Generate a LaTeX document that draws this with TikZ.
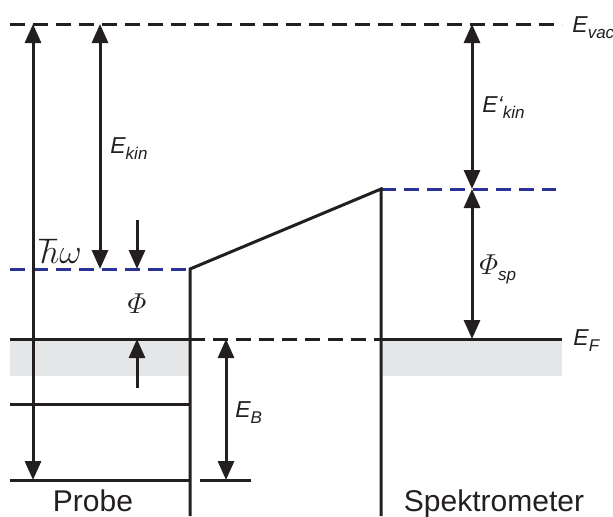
\documentclass[tikz,border=0pt]{standalone}
\usepackage{amsmath}
\usepackage{fontspec}
\setmainfont{Liberation Sans}
\usetikzlibrary{arrows.meta}
\definecolor{lineblack}{RGB}{35,31,32}
\definecolor{levelblue}{RGB}{43,50,150}
\definecolor{bandgray}{RGB}{230,231,232}
\newcommand{\elbl}[2]{{\fontsize{11.5}{12}\selectfont\itshape #1\raisebox{-3pt}{\fontsize{8.5}{9}\selectfont #2}}}
\begin{document}
\begin{tikzpicture}[x=0.5pt,y=-0.5pt,
  lvl/.style={line width=1.5pt,draw=lineblack},
  dlvl/.style={lvl,dash pattern=on 7.5pt off 4pt},
  blvl/.style={line width=1.5pt,draw=levelblue,dash pattern=on 7.5pt off 4pt},
  tip/.tip={Triangle[length=9.5pt,width=8pt]},
  darr/.style={line width=1.5pt,draw=lineblack,{tip}-{tip}},
  sarr/.style={line width=1.5pt,draw=lineblack,-{tip}},
  lab/.style={inner sep=0pt,anchor=base west,text=lineblack},
  big/.style={inner sep=0pt,anchor=base,text=lineblack,font=\fontsize{15}{16}\selectfont}]
\useasboundingbox (0,0) rectangle (613,516);
% coordinates
\coordinate (vacL) at (10,24);
\coordinate (vacR) at (562,24);
\coordinate (hwTop) at (33,24);
\coordinate (hwBot) at (33,480);
\coordinate (ekTop) at (100,24);
\coordinate (ekBot) at (100,269);
\coordinate (phiTop) at (137,220);
\coordinate (phiBot) at (137,269);
\coordinate (blL) at (10,269);
\coordinate (wallA) at (190,269);
\coordinate (wallAbot) at (190,516);
\coordinate (wallB) at (381,189);
\coordinate (wallBbot) at (381,516);
\coordinate (brR) at (556,189);
\coordinate (ekpTop) at (472,24);
\coordinate (ekpBot) at (472,189);
\coordinate (spBot) at (472,339);
\coordinate (efL) at (10,339);
\coordinate (efA) at (190,339);
\coordinate (efB) at (381,339);
\coordinate (efR) at (562,339);
\coordinate (upBot) at (137,388);
\coordinate (upTop) at (137,339);
\coordinate (coreL) at (10,404);
\coordinate (coreR) at (190,404);
\coordinate (botL) at (10,480);
\coordinate (botR) at (190,480);
\coordinate (ebTop) at (226,339);
\coordinate (ebBot) at (226,480);
\coordinate (ebL) at (200,480);
\coordinate (ebR) at (251,480);
% gray bands
\fill[bandgray] (10,339) rectangle (190,376);
\fill[bandgray] (383,339) rectangle (562,376);
% levels
\draw[dlvl] (vacL) -- (vacR);
\draw[blvl] (blL) -- (wallA);
\draw[blvl] (wallB) -- (brR);
\draw[lvl] (efL) -- (efA);
\draw[dlvl] (efA) -- (efB);
\draw[lvl] (efB) -- (efR);
\draw[lvl] (coreL) -- (coreR);
\draw[lvl] (botL) -- (botR);
\draw[lvl] (ebL) -- (ebR);
\draw[lvl] (wallAbot) -- (wallA) -- (wallB) -- (wallBbot);
% arrows
\draw[darr] (hwTop) -- (hwBot);
\draw[darr] (ekTop) -- (ekBot);
\draw[sarr] (phiTop) -- (phiBot);
\draw[darr] (ekpTop) -- (ekpBot);
\draw[darr] (ekpBot) -- (spBot);
\draw[sarr] (upBot) -- (upTop);
\draw[darr] (ebTop) -- (ebBot);
% labels
\node[lab] (tEvac) at (572,32) {\elbl{E}{vac}};
\node[lab] (tEkin) at (110,153) {\elbl{E}{kin}};
\node[lab] (tEkinp) at (482,112) {\elbl{E‘}{kin}};
\node[lab] (tPhisp) at (479,274) {{\fontsize{14}{14}\selectfont$\varPhi$}\raisebox{-3pt}{\fontsize{8.5}{9}\selectfont\itshape sp}};
\node[lab] (tEF) at (573,345) {\elbl{E}{F}};
\node[lab] (tEB) at (235,417) {\elbl{E}{B}};
\node[lab] (thw) at (39,263) {\fontsize{16}{16}\selectfont$\hbar\omega$};
\node[inner sep=0pt,text=lineblack] (tPhi) at (137,304) {\fontsize{14}{14}\selectfont$\varPhi$};
\node[big] (tProbe) at (93,511) {Probe};
\node[big] (tSpek) at (494,511) {Spektrometer};
\end{tikzpicture}
\end{document}
